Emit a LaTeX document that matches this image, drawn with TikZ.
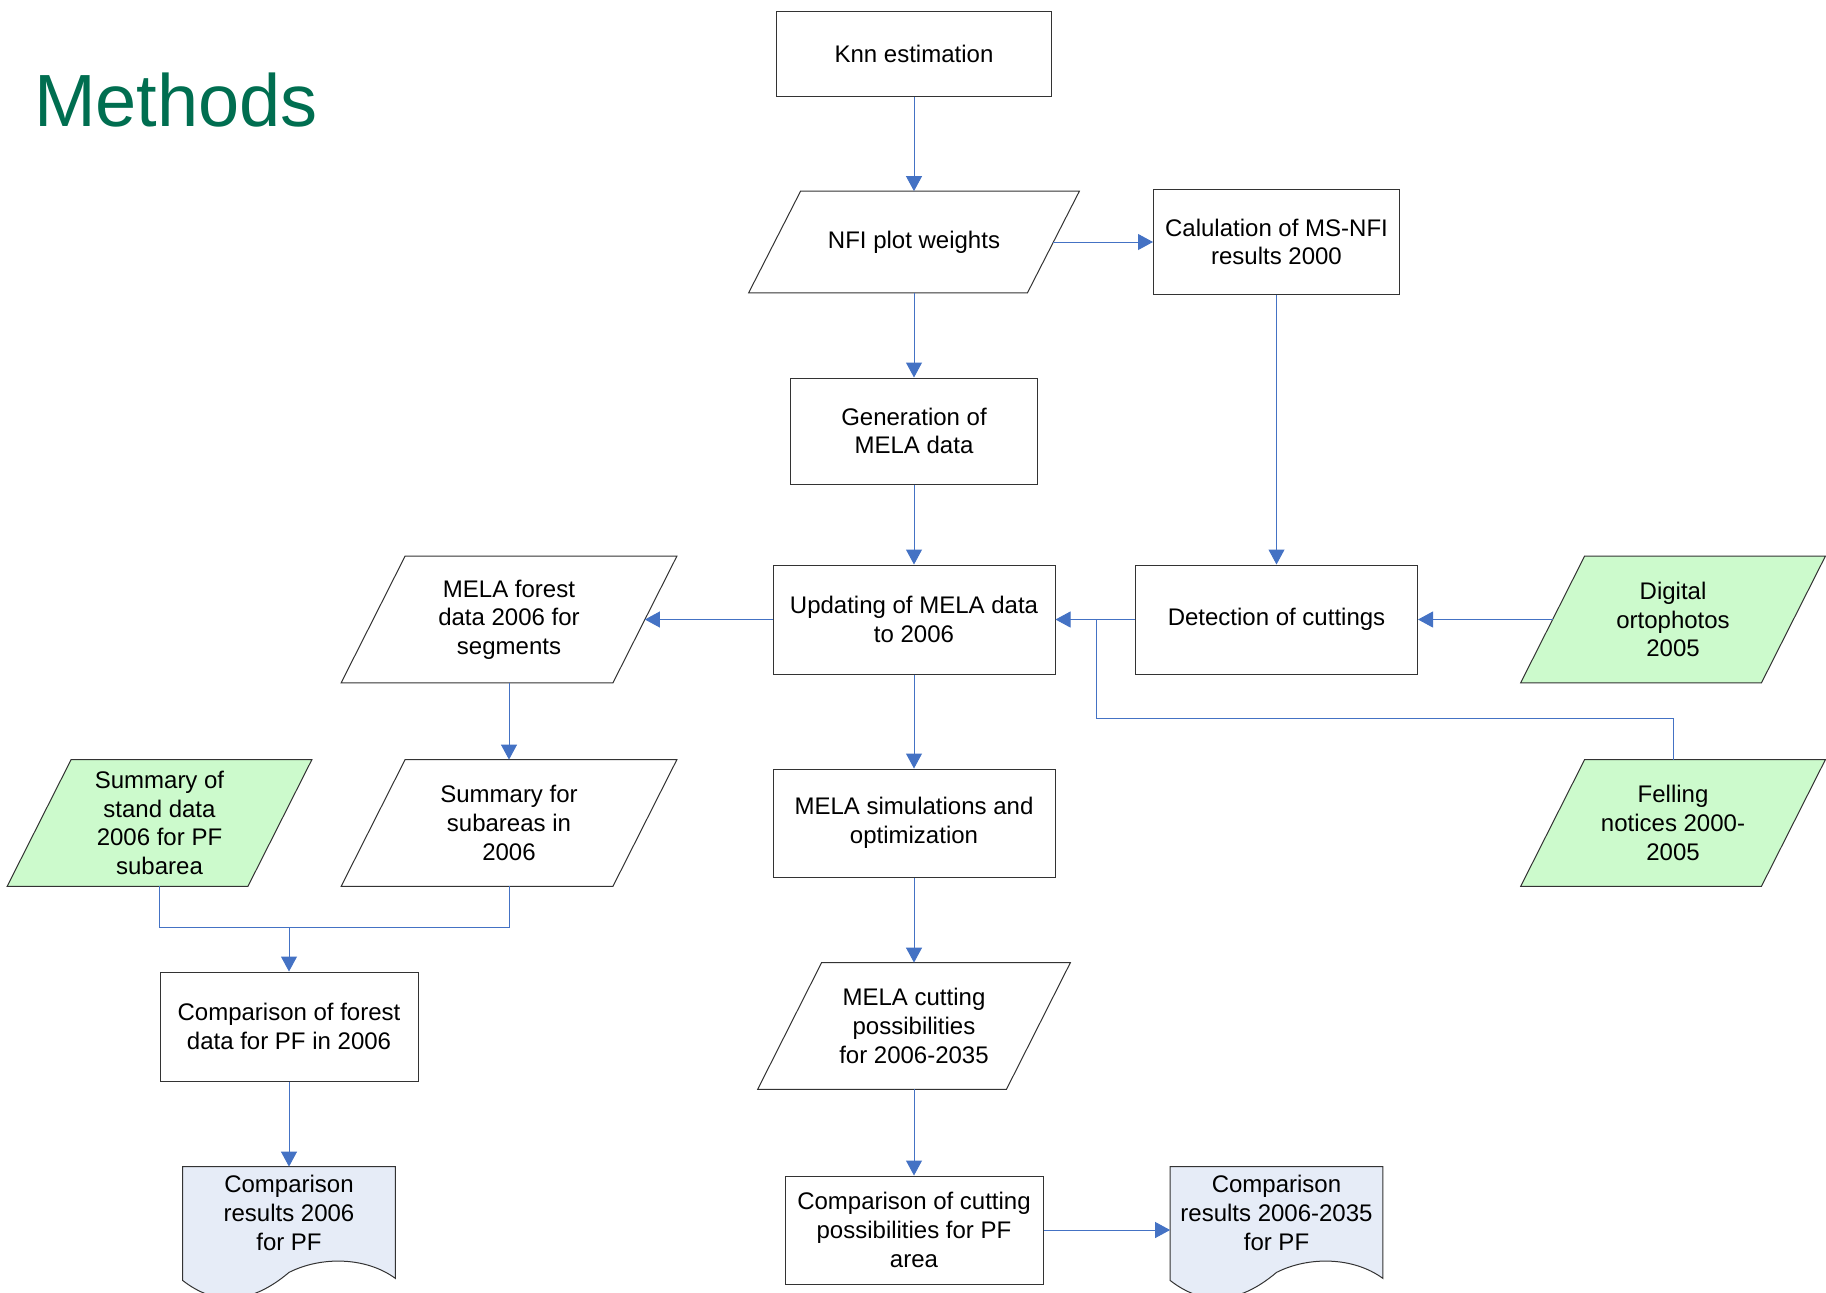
\documentclass[tikz,border=0pt]{standalone}
\usepackage{fontspec}
\setmainfont{Liberation Sans}
\usetikzlibrary{arrows.meta,backgrounds}

\definecolor{linkblue}{RGB}{68,114,196}
\definecolor{titlegreen}{RGB}{0,110,80}
\definecolor{inputgreen}{RGB}{204,250,204}
\definecolor{docfill}{RGB}{230,236,247}

\tikzset{
    every node/.style={font=\fontsize{12}{14.3}\selectfont, align=center},
    procbox/.style={draw=black!80, line width=0.5pt, minimum width=#1, minimum height=54pt, inner sep=2pt},
    databox/.style={minimum width=#1, minimum height=63pt, inner sep=1pt},
    inputbox/.style={databox=152pt},
    docbox/.style={minimum width=106pt, minimum height=55.5pt, inner sep=0pt},
    link/.style={draw=linkblue, line width=0.5pt, -{Triangle[length=7.5pt,width=8pt]}},
    plainlink/.style={draw=linkblue, line width=0.5pt},
}

% parallelogram behind a node: [fill]{node}{slant}
\newcommand{\slantpaper}[3][white]{%
    \begin{scope}[on background layer]
        \filldraw[fill=#1, draw=black!80, line width=0.5pt]
            ([xshift=#3]#2.north west) -- (#2.north east) -- ([xshift=-#3]#2.south east) -- (#2.south west) -- cycle;
    \end{scope}}

% document sheet with wavy bottom
\newcommand{\docpaper}[1]{%
    \filldraw[fill=docfill, draw=black!80, line width=0.5pt]
        ([yshift=-1pt]#1.south west) -- (#1.north west) -- (#1.north east) -- (#1.south east)
        .. controls ([xshift=-15pt,yshift=11pt]#1.south east) and ([xshift=-37.5pt,yshift=11pt]#1.south east) .. ([yshift=3pt]#1.south)
        .. controls ([xshift=-19.5pt,yshift=-13.5pt]#1.south) and ([xshift=16pt,yshift=-13.5pt]#1.south west) .. ([yshift=-1pt]#1.south west)
        -- cycle;}

\begin{document}
\begin{tikzpicture}[x=0.5pt, y=-0.5pt]
    \useasboundingbox (0,0) rectangle (1826,1292);

    \node[anchor=base west, text=titlegreen, font=\fontsize{37}{40}\selectfont] (title) at (27,126) {Methods};

    \node[procbox=137.5pt, minimum height=42.5pt] (knn) at (914,54) {Knn estimation};
    \node[databox=165pt, minimum height=50.5pt] (weights) at (914,242) {NFI plot weights};
    \slantpaper{weights}{26pt}
    \node[procbox=123pt, minimum height=52.5pt] (msnfi) at (1276.5,242) {Calulation of MS-NFI\\results 2000};
    \node[procbox=123.5pt, minimum height=53pt] (generation) at (914,431) {Generation of\\MELA data};
    \node[procbox=141pt, minimum height=54.5pt] (updating) at (914,619.5) {Updating of MELA data\\to 2006};
    \node[procbox=141pt, minimum height=54.5pt] (detection) at (1276.5,619.5) {Detection of cuttings};
    \node[inputbox] (ortho) at (1673,619.5) {Digital\\ortophotos\\2005};
    \slantpaper[inputgreen]{ortho}{32pt}
    \node[databox=167.5pt] (forest) at (509,619.5) {MELA forest\\data 2006 for\\segments};
    \slantpaper{forest}{32pt}
    \node[databox=167.5pt] (subareas) at (509,823) {Summary for\\subareas in\\2006};
    \slantpaper{subareas}{32pt}
    \node[inputbox] (stand) at (159.5,823) {Summary of\\stand data\\2006 for PF\\subarea};
    \slantpaper[inputgreen]{stand}{32pt}
    \node[inputbox] (felling) at (1673,823) {Felling\\notices 2000-\\2005};
    \slantpaper[inputgreen]{felling}{32pt}
    \node[procbox=141pt] (simulation) at (914,823) {MELA simulations and\\optimization};
    \node[databox=156pt] (cutting) at (914,1026) {MELA cutting\\possibilities\\for 2006-2035};
    \slantpaper{cutting}{32pt}
    \node[procbox=129pt, minimum height=54.5pt] (compforest) at (289,1026.5) {Comparison of forest\\data for PF in 2006};
    \node[procbox=129pt] (compcutting) at (914,1230) {Comparison of cutting\\possibilities for PF\\area};

    \node[docbox] (resforest) at (289,1222.5) {};
    \docpaper{resforest}
    \node (resforesttext) at (289,1213) {Comparison\\results 2006\\for PF};
    \node[docbox] (rescutting) at (1276.5,1222.5) {};
    \docpaper{rescutting}
    \node (rescuttingtext) at (1276.5,1213) {Comparison\\results 2006-2035\\for PF};

    \coordinate (join) at (1096,619.5);
    \coordinate (fellingbend) at (1096,718.5);
    \coordinate (standjoin) at (289,927);

    \draw[link] (knn) -- (weights);
    \draw[link] ([xshift=-13pt]weights.east) -- (msnfi);
    \draw[link] (weights) -- (generation);
    \draw[link] (msnfi) -- (detection);
    \draw[link] (generation) -- (updating);
    \draw[link] (detection) -- (updating);
    \draw[link] ([xshift=16pt]ortho.west) -- (detection);
    \draw[plainlink] (felling.north) |- (fellingbend) -- (join);
    \draw[link] (updating) -- ([xshift=-16pt]forest.east);
    \draw[link] (forest) -- (subareas);
    \draw[link] (updating) -- (simulation);
    \draw[link] (simulation) -- (cutting);
    \draw[link] (cutting) -- (compcutting);
    \draw[plainlink] (stand.south) |- (standjoin);
    \draw[plainlink] (subareas.south) |- (standjoin);
    \draw[link] (standjoin) -- (compforest);
    \draw[link] (compforest) -- (resforest);
    \draw[link] (compcutting) -- (rescutting.west |- compcutting);
\end{tikzpicture}
\end{document}
